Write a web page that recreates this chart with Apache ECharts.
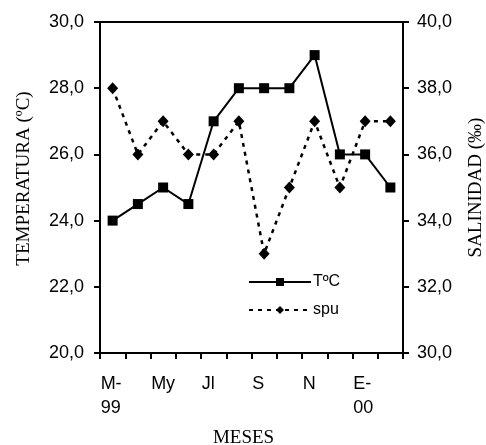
<!DOCTYPE html>
<html><head><meta charset="utf-8">
<script src="https://cdn.jsdelivr.net/npm/echarts@6/dist/echarts.min.js"></script>
<style>html,body{margin:0;padding:0;background:#fff}#c{width:486px;height:445px}</style>
</head><body><div id="c"></div>
<script>
const months = ['M-\n99','A','My','Jn','Jl','Ag','S','O','N','D','E-\n00','F'];
const temperature = [24, 24.5, 25, 24.5, 27, 28, 28, 28, 29, 26, 26, 25];
const salinity = [38, 36, 37, 36, 36, 37, 33, 35, 37, 35, 37, 37];
const tempTicks = [20, 30, 2];
const salTicks = [30, 40, 2];

const fmt = v => v.toFixed(1).replace('.', ',');
const sans = 'Liberation Sans, Arial, sans-serif';
const serif = 'Liberation Serif, Times New Roman, serif';
const chart = echarts.init(document.getElementById('c'), null, {renderer: 'canvas'});
chart.setOption({
  animation: false,
  backgroundColor: '#fff',
  grid: {left: 100, right: 83, top: 22, bottom: 92, show: true, borderColor: '#000', borderWidth: 2, backgroundColor: 'transparent', containLabel: false, outerBoundsMode: 'none'},
  legend: {
    orient: 'vertical', left: 248, top: 274, padding: 0, itemWidth: 62, itemHeight: 10, itemGap: 12,
    textStyle: {fontFamily: sans, fontSize: 16, color: '#000', padding: [0,0,0,-3]},
    data: [{name: 'TºC'}, {name: 'spu'}]
  },
  xAxis: {
    type: 'category', data: months, boundaryGap: true,
    name: 'MESES', nameLocation: 'middle', nameGap: 76,
    nameTextStyle: {fontFamily: serif, fontSize: 19, color: '#000', padding: [0,16,0,0]},
    axisLine: {lineStyle: {color: '#000', width: 2}},
    axisTick: {show: true, inside: false, length: 6, lineStyle: {color: '#000', width: 2}, interval: 0},
    axisLabel: {interval: 1, fontFamily: sans, fontSize: 18, color: '#000', margin: 19, lineHeight: 24, align: 'left', padding: [0,0,0,-12]},
    splitLine: {show: false}
  },
  yAxis: [{
    type: 'value', min: tempTicks[0], max: tempTicks[1], interval: tempTicks[2],
    name: 'TEMPERATURA (ºC)', nameLocation: 'middle', nameGap: 66, nameRotate: 90,
    nameTextStyle: {fontFamily: serif, fontSize: 19, color: '#000', padding: [0,0,0,18]},
    axisLine: {show: true, lineStyle: {color: '#000', width: 2}},
    axisTick: {show: true, length: 6, lineStyle: {color: '#000', width: 2}},
    axisLabel: {formatter: fmt, fontFamily: sans, fontSize: 18, color: '#000', margin: 16},
    splitLine: {show: false}
  }, {
    type: 'value', position: 'right', min: salTicks[0], max: salTicks[1], interval: salTicks[2],
    name: 'SALINIDAD (‰)', nameLocation: 'middle', nameGap: 64, nameRotate: 90,
    nameTextStyle: {fontFamily: serif, fontSize: 19, color: '#000'},
    axisLine: {show: true, lineStyle: {color: '#000', width: 2}},
    axisTick: {show: true, length: 6, lineStyle: {color: '#000', width: 2}},
    axisLabel: {formatter: fmt, fontFamily: sans, fontSize: 18, color: '#000', margin: 14},
    splitLine: {show: false}
  }],
  series: [{
    name: 'TºC', type: 'line', yAxisIndex: 0, data: temperature,
    symbol: 'rect', symbolSize: 10,
    lineStyle: {color: '#000', width: 2}, itemStyle: {color: '#000'}
  }, {
    name: 'spu', type: 'line', yAxisIndex: 1, data: salinity,
    symbol: 'diamond', symbolSize: [11, 12],
    lineStyle: {color: '#000', width: 2.5, type: [4, 5]}, itemStyle: {color: '#000'}
  }]
});
</script></body></html>
